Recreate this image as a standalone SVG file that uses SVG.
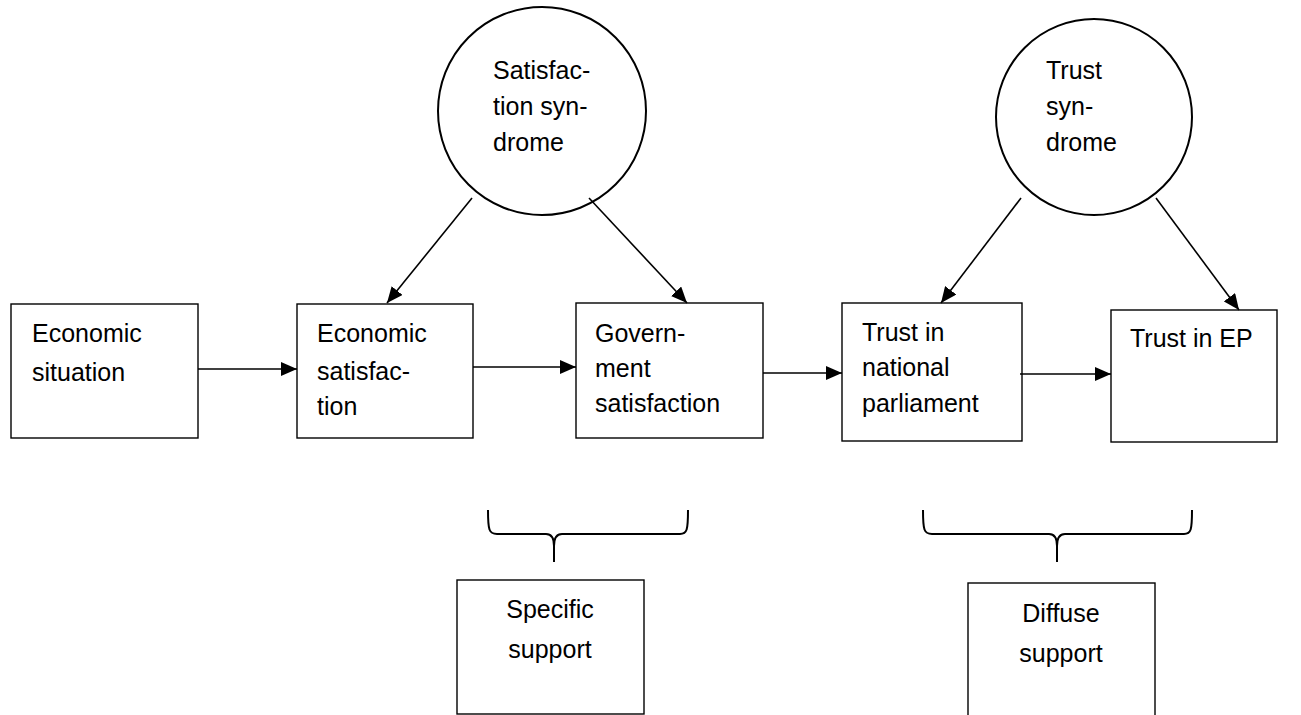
<svg xmlns="http://www.w3.org/2000/svg" width="1301" height="715" viewBox="0 0 1301 715">
<style>
.box{fill:#fff;stroke:#000;stroke-width:1.4}
.circ{fill:#fff;stroke:#000;stroke-width:2}
.t{font-family:"Liberation Sans",Arial,sans-serif;font-size:25px;fill:#000}
.c{text-anchor:middle}
.ln{stroke:#000;stroke-width:1.6;fill:none}
.br{stroke:#000;stroke-width:2;fill:none}
</style>
<defs>
<marker id="ah" markerWidth="16" markerHeight="14" refX="16" refY="7" orient="auto" markerUnits="userSpaceOnUse">
<path d="M0,0 L16,7 L0,14 Z" fill="#000"/>
</marker>
</defs>
<rect width="1301" height="715" fill="#fff"/>
<g id="satisfaction-syndrome">
<circle class="circ" cx="542" cy="111" r="104"/>
<text class="t" x="493" y="79">Satisfac-</text>
<text class="t" x="493" y="115">tion syn-</text>
<text class="t" x="493" y="151">drome</text>
</g>
<g id="trust-syndrome">
<circle class="circ" cx="1094" cy="117" r="98"/>
<text class="t" x="1046" y="79">Trust</text>
<text class="t" x="1046" y="115">syn-</text>
<text class="t" x="1046" y="151">drome</text>
</g>
<g id="economic-situation">
<rect class="box" x="11" y="304" width="187" height="134"/>
<text class="t" x="32" y="342">Economic</text>
<text class="t" x="32" y="381">situation</text>
</g>
<g id="economic-satisfaction">
<rect class="box" x="297" y="304" width="176" height="134"/>
<text class="t" x="317" y="342">Economic</text>
<text class="t" x="317" y="380">satisfac-</text>
<text class="t" x="317" y="415">tion</text>
</g>
<g id="government-satisfaction">
<rect class="box" x="576" y="303" width="187" height="135"/>
<text class="t" x="595" y="342">Govern-</text>
<text class="t" x="595" y="377">ment</text>
<text class="t" x="595" y="412">satisfaction</text>
</g>
<g id="trust-national-parliament">
<rect class="box" x="842" y="303" width="180" height="138"/>
<text class="t" x="862" y="341">Trust in</text>
<text class="t" x="862" y="376">national</text>
<text class="t" x="862" y="412">parliament</text>
</g>
<g id="trust-ep">
<rect class="box" x="1111" y="310" width="166" height="132"/>
<text class="t" x="1130" y="347">Trust in EP</text>
</g>
<g id="specific-support">
<rect class="box" x="457" y="580" width="187" height="134"/>
<text class="t c" x="550" y="618">Specific</text>
<text class="t c" x="550" y="658">support</text>
</g>
<g id="diffuse-support">
<rect class="box" x="968" y="583" width="187" height="140"/>
<text class="t c" x="1061" y="622">Diffuse</text>
<text class="t c" x="1061" y="662">support</text>
</g>
<g id="connectors">
<line class="ln" x1="198" y1="369" x2="297" y2="369" marker-end="url(#ah)"/>
<line class="ln" x1="473" y1="367" x2="576" y2="367" marker-end="url(#ah)"/>
<line class="ln" x1="763" y1="373" x2="842" y2="373" marker-end="url(#ah)"/>
<line class="ln" x1="1020" y1="374" x2="1111" y2="374" marker-end="url(#ah)"/>
<line class="ln" x1="472" y1="198" x2="387" y2="303" marker-end="url(#ah)"/>
<line class="ln" x1="589" y1="198" x2="687" y2="303" marker-end="url(#ah)"/>
<line class="ln" x1="1021" y1="198" x2="941" y2="303" marker-end="url(#ah)"/>
<line class="ln" x1="1156" y1="198" x2="1239" y2="310" marker-end="url(#ah)"/>
<path class="br" d="M488,510 C488,530 489,534 497,534 L546,534 C551,534 554,537 554,546 L554,562 M554,546 C554,537 557,534 562,534 L680,534 C687,534 688,530 688,510"/>
<path class="br" d="M923,510 C923,530 924,534 932,534 L1049,534 C1054,534 1057,537 1057,546 L1057,562 M1057,546 C1057,537 1060,534 1065,534 L1184,534 C1191,534 1192,530 1192,510"/>
</g>
</svg>
